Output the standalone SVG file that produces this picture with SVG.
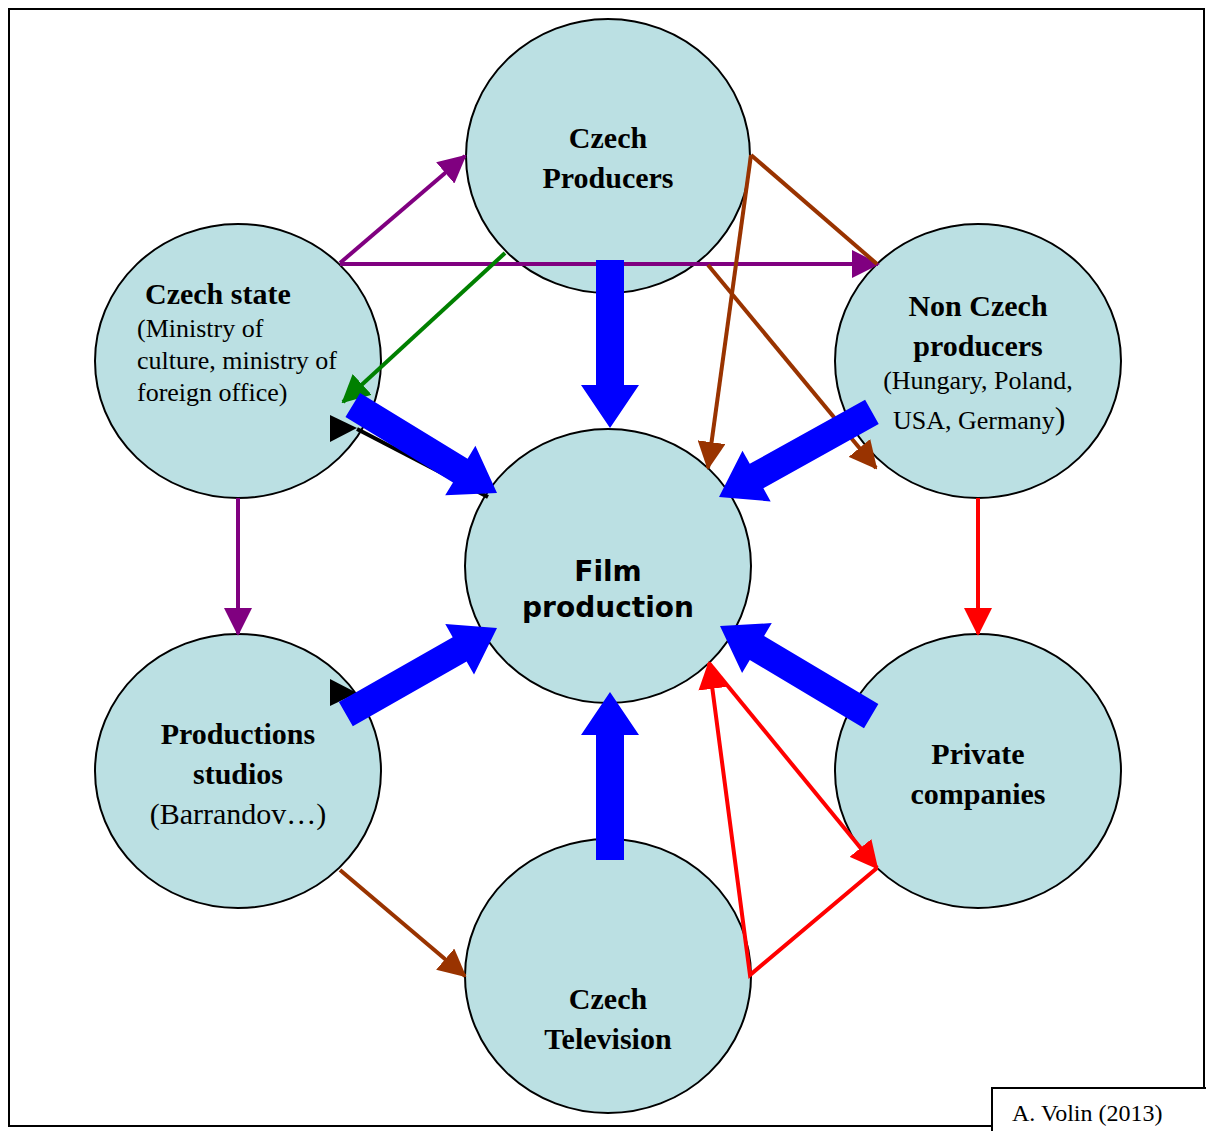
<svg xmlns="http://www.w3.org/2000/svg" width="1206" height="1131" viewBox="0 0 1206 1131">
<style>
.node{fill:#bbe0e3;stroke:#000;stroke-width:2}
.h{font-family:"Liberation Serif","Times New Roman",serif;font-weight:bold;font-size:30px;fill:#000}
.r{font-family:"Liberation Serif","Times New Roman",serif;font-size:26px;fill:#000}
.r30{font-family:"Liberation Serif","Times New Roman",serif;font-size:30px;fill:#000}
.fp{font-family:"DejaVu Sans",Verdana,sans-serif;font-weight:bold;font-size:28px;fill:#000}
.ln{fill:none;stroke-width:4}
.pu{stroke:#800080}.gr{stroke:#008000}.br{stroke:#993300}.rd{stroke:#ff0000}
.blk{fill:#0000ff}
</style>
<defs>
<marker id="mpu" markerUnits="userSpaceOnUse" markerWidth="28" markerHeight="28" viewBox="0 0 28 28" refX="26" refY="14" orient="auto"><path d="M0,0 L28,14 L0,28 z" fill="#800080"/></marker>
<marker id="mgr" markerUnits="userSpaceOnUse" markerWidth="28" markerHeight="28" viewBox="0 0 28 28" refX="26" refY="14" orient="auto"><path d="M0,0 L28,14 L0,28 z" fill="#008000"/></marker>
<marker id="mbr" markerUnits="userSpaceOnUse" markerWidth="28" markerHeight="28" viewBox="0 0 28 28" refX="26" refY="14" orient="auto"><path d="M0,0 L28,14 L0,28 z" fill="#993300"/></marker>
<marker id="mrd" markerUnits="userSpaceOnUse" markerWidth="28" markerHeight="28" viewBox="0 0 28 28" refX="26" refY="14" orient="auto"><path d="M0,0 L28,14 L0,28 z" fill="#ff0000"/></marker>
</defs>
<rect x="0" y="0" width="1206" height="1131" fill="#fff"/>
<rect x="9" y="9" width="1195" height="1117" fill="none" stroke="#000" stroke-width="2"/>

<g id="czech-producers">
<ellipse class="node" cx="608" cy="156" rx="142" ry="137"/>
<text class="h" x="608" y="148" text-anchor="middle">Czech</text>
<text class="h" x="608" y="188" text-anchor="middle">Producers</text>
</g>
<g id="czech-state">
<ellipse class="node" cx="238" cy="361" rx="143" ry="137"/>
<text class="h" x="145" y="304">Czech state</text>
<text class="r" x="137" y="337">(Ministry of</text>
<text class="r" x="137" y="369">culture, ministry of</text>
<text class="r" x="137" y="401">foreign office)</text>
</g>
<g id="non-czech-producers">
<ellipse class="node" cx="978" cy="361" rx="143" ry="137"/>
<text class="h" x="978" y="316" text-anchor="middle">Non Czech</text>
<text class="h" x="978" y="356" text-anchor="middle">producers</text>
<text class="r" x="978" y="389" text-anchor="middle">(Hungary, Poland,</text>
<text class="r" x="893" y="429">USA, Germany<tspan style="font-size:32px">)</tspan></text>
</g>
<g id="film-production">
<ellipse class="node" cx="608" cy="566" rx="143" ry="137"/>
<text class="fp" x="608" y="581" text-anchor="middle">Film</text>
<text class="fp" x="608" y="617" text-anchor="middle">production</text>
</g>
<g id="production-studios">
<ellipse class="node" cx="238" cy="771" rx="143" ry="137"/>
<text class="h" x="238" y="744" text-anchor="middle">Productions</text>
<text class="h" x="238" y="784" text-anchor="middle">studios</text>
<text class="r30" x="238" y="824" text-anchor="middle">(Barrandov…)</text>
</g>
<g id="private-companies">
<ellipse class="node" cx="978" cy="771" rx="143" ry="137"/>
<text class="h" x="978" y="764" text-anchor="middle">Private</text>
<text class="h" x="978" y="804" text-anchor="middle">companies</text>
</g>
<g id="czech-television">
<ellipse class="node" cx="608" cy="976" rx="143" ry="137"/>
<text class="h" x="608" y="1009" text-anchor="middle">Czech</text>
<text class="h" x="608" y="1049" text-anchor="middle">Television</text>
</g>

<g id="connectors">
<line class="ln pu" x1="340" y1="263" x2="465" y2="156" marker-end="url(#mpu)"/>
<line class="ln pu" x1="340" y1="264" x2="878" y2="264" marker-end="url(#mpu)"/>
<line class="ln pu" x1="238" y1="498" x2="238" y2="634" marker-end="url(#mpu)"/>
<line class="ln gr" x1="505" y1="253" x2="343" y2="402" marker-end="url(#mgr)"/>
<line class="ln br" x1="751" y1="155" x2="877" y2="264"/>
<line class="ln br" x1="751" y1="155" x2="708" y2="468" marker-end="url(#mbr)"/>
<line class="ln br" x1="708" y1="265" x2="876" y2="468" marker-end="url(#mbr)"/>
<line class="ln br" x1="340" y1="870" x2="465" y2="976" marker-end="url(#mbr)"/>
<line class="ln rd" x1="978" y1="498" x2="978" y2="634" marker-end="url(#mrd)"/>
<polyline class="ln rd" points="877,868 750,975 709,663" marker-end="url(#mrd)"/>
<line class="ln rd" x1="709" y1="663" x2="877" y2="868" marker-end="url(#mrd)"/>
<line stroke="#000" stroke-width="4" x1="357" y1="429" x2="488" y2="497"/>
<polygon points="330,415 357,428 330,442" fill="#000"/>
<polygon points="330,679 357,693 330,706" fill="#000"/>
<polygon class="blk" transform="translate(497,493) rotate(31.4)" points="-169,-14 -43,-14 -43,-29 0,0 -43,29 -43,14 -169,14"/>
<polygon class="blk" transform="translate(719,497) rotate(150.9)" points="-175,-14 -43,-14 -43,-29 0,0 -43,29 -43,14 -175,14"/>
<polygon class="blk" transform="translate(497,628) rotate(-29.7)" points="-174,-14 -43,-14 -43,-29 0,0 -43,29 -43,14 -174,14"/>
<polygon class="blk" transform="translate(720,626) rotate(-149.2)" points="-176,-14 -43,-14 -43,-29 0,0 -43,29 -43,14 -176,14"/>
<polygon class="blk" transform="translate(610,428) rotate(90)" points="-168,-14 -43,-14 -43,-29 0,0 -43,29 -43,14 -168,14"/>
<polygon class="blk" transform="translate(610,692) rotate(-90)" points="-168,-14 -43,-14 -43,-29 0,0 -43,29 -43,14 -168,14"/>
</g>

<g id="credit">
<rect x="992" y="1088" width="220" height="50" fill="#fff" stroke="#000" stroke-width="2"/>
<text x="1012" y="1121" font-family="Liberation Serif,'Times New Roman',serif" font-size="24">A. Volin (2013)</text>
</g>
</svg>
